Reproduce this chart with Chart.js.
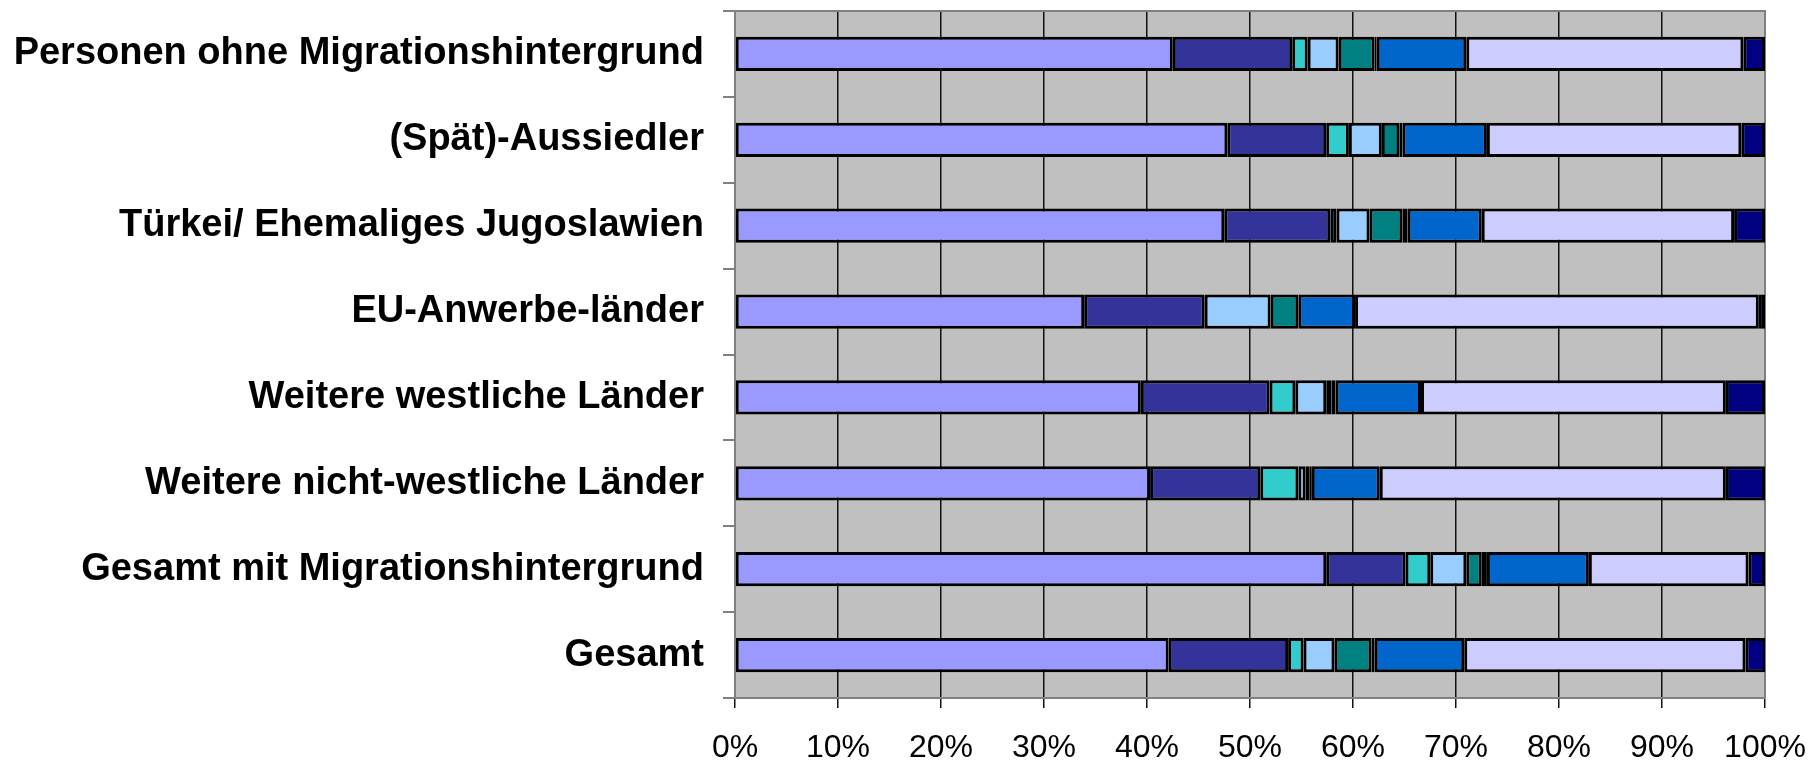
<!DOCTYPE html>
<html>
<head>
<meta charset="utf-8">
<script src="https://cdn.jsdelivr.net/npm/chart.js@4/dist/chart.umd.min.js"></script>
<style>
  html, body { margin: 0; padding: 0; background: #fff; }
  canvas { display: block; }
</style>
</head>
<body>
<canvas id="chart" width="1809" height="765"></canvas>
<script>
// Categories, top to bottom
const categories = [
    'Personen ohne Migrationshintergrund',
    '(Spät)-Aussiedler',
    'Türkei/ Ehemaliges Jugoslawien',
    'EU-Anwerbe-länder',
    'Weitere westliche Länder',
    'Weitere nicht-westliche Länder',
    'Gesamt mit Migrationshintergrund',
    'Gesamt'
];

// Shares in percent per series, one value per category
const series1 = [42.5, 47.8, 47.5, 33.9, 39.4, 40.3, 57.4, 42.1];
const series2 = [11.6, 9.6, 10.3, 11.7, 12.5, 10.7, 7.7, 11.6];
const series3 = [1.5, 2.2, 0.6, 0, 2.5, 3.7, 2.4, 1.5];
const series4 = [3.0, 3.2, 3.2, 6.4, 3.0, 0.7, 3.5, 3.0];
const series5 = [3.5, 1.7, 3.2, 2.7, 0.5, 0.4, 1.5, 3.6];
const series6 = [0.2, 0.3, 0.5, 0, 0.4, 0.2, 0.5, 0.3];
const series7 = [8.7, 8.2, 7.2, 5.5, 8.3, 6.6, 9.9, 8.7];
const series8 = [26.9, 24.7, 24.5, 39.2, 29.6, 33.6, 15.5, 27.3];
const series9 = [2.1, 2.3, 3.0, 0.6, 3.8, 3.8, 1.6, 2.0];

const seriesValues = [series1, series2, series3, series4, series5, series6, series7, series8, series9];
const seriesColors = ['#9999FF', '#333399', '#33CCCC', '#99CCFF', '#008080', '#00CCFF', '#0066CC', '#CCCCFF', '#000080'];

// x axis ticks: 0% .. 100%
const xTicks = [0, 10, 20, 30, 40, 50, 60, 70, 80, 90, 100];

// grey plot area with grey frame on top/right
const plotBg = {
    id: 'plotBg',
    beforeDraw(chart) {
        const { ctx, chartArea: a } = chart;
        ctx.save();
        ctx.fillStyle = '#C0C0C0';
        ctx.fillRect(a.left, a.top, a.right - a.left, a.bottom - a.top);
        ctx.restore();
    },
    beforeDatasetsDraw(chart) {
        const { ctx, chartArea: a } = chart;
        ctx.save();
        ctx.strokeStyle = '#808080';
        ctx.lineWidth = 2;
        ctx.beginPath();
        ctx.moveTo(a.left, a.top);
        ctx.lineTo(a.right, a.top);
        ctx.lineTo(a.right, a.bottom);
        ctx.stroke();
        ctx.restore();
    }
};

const ctx = document.getElementById('chart').getContext('2d');
new Chart(ctx, {
    type: 'bar',
    data: {
        labels: categories,
        datasets: seriesValues.map((vals, i) => ({
            label: 'Reihe ' + (i + 1),
            data: vals,
            backgroundColor: seriesColors[i],
            borderColor: '#000000',
            borderWidth: 3,
            borderSkipped: false,
            barPercentage: 0.4,
            categoryPercentage: 1.0
        }))
    },
    options: {
        indexAxis: 'y',
        responsive: false,
        animation: false,
        layout: { padding: { top: 0, right: 0, left: 0, bottom: 0 } },
        plugins: {
            legend: { display: false },
            tooltip: { enabled: false }
        },
        scales: {
            x: {
                stacked: true,
                min: 0,
                max: 100,
                afterBuildTicks: (scale) => { scale.ticks = xTicks.map(v => ({ value: v })); },
                afterFit: (scale) => {
                    scale.height = 67;
                    scale.paddingLeft = 0;
                    scale.paddingRight = 44;
                },
                ticks: {
                    callback: (v) => v + '%',
                    color: '#000',
                    font: { family: '"Liberation Sans", Arial, sans-serif', size: 32 },
                    padding: 21,
                    maxRotation: 0,
                    autoSkip: false
                },
                grid: { color: '#111', lineWidth: 1.5, tickLength: 10 },
                border: { color: '#808080', width: 2 }
            },
            y: {
                stacked: true,
                afterFit: (scale) => {
                    scale.width = 735;
                    scale.paddingTop = 11;
                    scale.paddingBottom = 0;
                },
                ticks: {
                    color: '#000',
                    font: { family: '"Liberation Sans", Arial, sans-serif', size: 38, weight: 'bold' },
                    padding: 19,
                    autoSkip: false
                },
                grid: { drawOnChartArea: false, tickLength: 12, color: '#808080', lineWidth: 2, offset: true },
                border: { color: '#808080', width: 2 }
            }
        }
    },
    plugins: [plotBg]
});
</script>
</body>
</html>
